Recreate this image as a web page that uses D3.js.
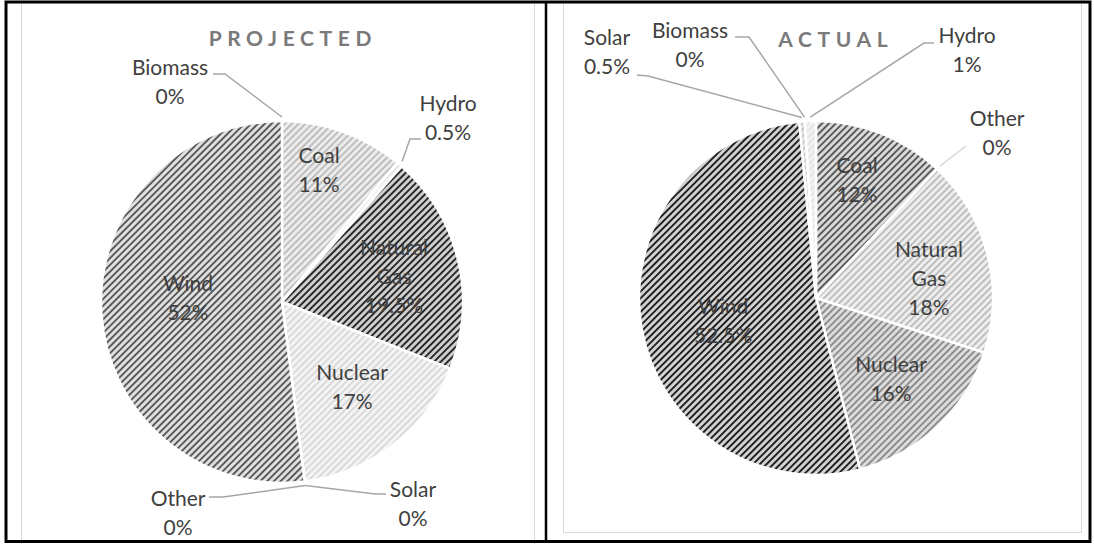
<!DOCTYPE html>
<html>
<head>
<meta charset="utf-8">
<script src="https://cdn.jsdelivr.net/npm/d3@7"></script>
<style>
  body { margin: 0; background: #fff; }
  text { font-family: Lato, "Open Sans", sans-serif; }
</style>
</head>
<body>
<svg id="chart"></svg>
<script>
// ---- data ----
var titles = ["PROJECTED", "ACTUAL"];
var projectedCategories = ["Biomass", "Coal", "Hydro", "Natural Gas", "Nuclear", "Other", "Solar", "Wind"];
var projectedValues     = [0, 11, 0.5, 19.5, 17, 0, 0, 52];
var actualCategories = ["Coal", "Other", "Natural Gas", "Nuclear", "Wind", "Solar", "Biomass", "Hydro"];
var actualValues     = [12, 0, 18, 16, 52.5, 0.5, 0, 1];

W = 1094
H = 544

// hatch colours [background, stripe] for each slice
var projectedFills = {
  "Coal": ["#ececec", "#bdbdbd"],
  "Hydro": ["#f4f4f4", "#e6e6e6"],
  "Natural Gas": ["#cfcfcf", "#262626"],
  "Nuclear": ["#f4f4f4", "#d9d9d9"],
  "Wind": ["#e0e0e0", "#595959"],
  "Biomass": ["#ddd", "#888"], "Other": ["#ddd", "#888"], "Solar": ["#ddd", "#888"]
};
var actualFills = {
  "Coal": ["#dadada", "#595959"],
  "Natural Gas": ["#eeeeee", "#bdbdbd"],
  "Nuclear": ["#dcdcdc", "#8c8c8c"],
  "Wind": ["#d2d2d2", "#1e1e1e"],
  "Solar": ["#e4e4e4", "#c4c4c4"],
  "Hydro": ["#f2f2f2", "#e4e4e4"],
  "Biomass": ["#ddd", "#888"], "Other": ["#ddd", "#888"]
};

// placement of each chart and its labels
var charts = [
  {
    title: titles[0], cats: projectedCategories, vals: projectedValues, fills: projectedFills,
    cx: 282, cy: 302, r: 181, titleX: 290, titleY: 46,
    inside: { "Coal": [0.757, -4.1], "Natural Gas": [0.634, 0.9], "Nuclear": [0.608, -1.7], "Wind": [0.52, 6] },
    outside: {
      "Biomass": { x: 170, y: 75, line: [[213, 74], [225, 74]] },
      "Hydro":   { x: 448, y: 111, line: [[421, 139], [410, 139]] },
      "Solar":   { x: 413, y: 497, line: [[386, 494], [375, 494]] },
      "Other":   { x: 178, y: 506, line: [[209, 497], [223, 497]] }
    }
  },
  {
    title: titles[1], cats: actualCategories, vals: actualValues, fills: actualFills,
    cx: 816, cy: 298, r: 177, titleX: 833, titleY: 47,
    inside: { "Coal": [0.705, -2.4], "Natural Gas": [0.648, 4.4], "Nuclear": [0.624, 0.4], "Wind": [0.541, -4] },
    outside: {
      "Solar":   { x: 607, y: 45, line: [[637, 75], [648, 76]] },
      "Biomass": { x: 690, y: 38, line: [[735, 37], [749, 37]] },
      "Hydro":   { x: 967, y: 43, line: [[934, 43], [924, 43]] },
      "Other":   { x: 997, y: 126, line: [[966, 146]], light: true }
    }
  }
];

var svg = d3.select('#chart').attr('width', W).attr('height', H);
svg.append('rect').attr('width', W).attr('height', H).attr('fill', '#fff');
var defs = svg.append('defs');

// light grey chart frames
svg.append('rect').attr('x', 21.5).attr('y', -10).attr('width', 513).attr('height', 570)
   .attr('fill', 'none').attr('stroke', '#d9d9d9');
svg.append('rect').attr('x', 563.5).attr('y', -10).attr('width', 518).attr('height', 542.5)
   .attr('fill', 'none').attr('stroke', '#d9d9d9');

lineH = 29
hatch = 4.8

charts.forEach(function(c, ci) {
  var data = c.cats.map(function(k, i) { return { name: k, value: c.vals[i] }; });
  var pie = d3.pie().sort(null).value(function(d) { return d.value; });
  var arcs = pie(data);
  var arc = d3.arc().innerRadius(0).outerRadius(c.r);

  // hatch patterns
  arcs.forEach(function(a, i) {
    var f = c.fills[a.data.name];
    var p = defs.append('pattern')
      .attr('id', 'hatch' + ci + '_' + i)
      .attr('patternUnits', 'userSpaceOnUse')
      .attr('width', hatch).attr('height', hatch)
      .attr('patternTransform', 'rotate(45)');
    p.append('rect').attr('width', hatch).attr('height', hatch).attr('fill', f[0]);
    p.append('rect').attr('width', 1.9).attr('height', hatch).attr('fill', f[1]);
  });

  var g = svg.append('g').attr('transform', `translate(${c.cx},${c.cy})`);

  g.selectAll('.slice').data(arcs).enter()
    .append('path')
    .attr('class', 'slice')
    .attr('d', arc)
    .attr('fill', function(d, i) { return `url(#hatch${ci}_${i})`; })
    .attr('stroke', '#fff')
    .attr('stroke-width', 2.5)
    .attr('stroke-linejoin', 'round');

  // title
  svg.append('text')
    .attr('x', c.titleX + 2.8).attr('y', c.titleY)
    .attr('text-anchor', 'middle')
    .attr('font-size', 21).attr('font-weight', 700)
    .attr('letter-spacing', '5.6px')
    .attr('fill', '#7a7a7a')
    .text(c.title);

  var mid = function(a) { return (a.startAngle + a.endAngle) / 2; };

  // labels inside the slices
  arcs.filter(function(a) { return c.inside[a.data.name]; }).forEach(function(a) {
    var opt = c.inside[a.data.name];
    var ang = mid(a) + opt[1] * Math.PI / 180;
    var px = Math.sin(ang) * c.r * opt[0], py = -Math.cos(ang) * c.r * opt[0];
    var lines = a.data.name.split(' ').concat([a.data.value + '%']);
    var t = g.append('text').attr('text-anchor', 'middle').attr('font-size', 21).attr('fill', '#404040');
    lines.forEach(function(s, li) {
      t.append('tspan').attr('x', px)
        .attr('y', py + (li - (lines.length - 1) / 2) * lineH + 7.5)
        .text(s);
    });
  });

  // labels outside with leader lines
  arcs.filter(function(a) { return c.outside[a.data.name]; }).forEach(function(a) {
    var o = c.outside[a.data.name];
    var ang = mid(a), rr = c.r + 4;
    var end = [c.cx + Math.sin(ang) * rr, c.cy - Math.cos(ang) * rr];
    var pts = o.line.concat([end]);
    svg.append('path')
      .attr('d', d3.line()(pts))
      .attr('fill', 'none')
      .attr('stroke', o.light ? '#d9d9d9' : '#a6a6a6')
      .attr('stroke-width', 1.5);
    var t = svg.append('text').attr('text-anchor', 'middle').attr('font-size', 21).attr('fill', '#404040');
    t.append('tspan').attr('x', o.x).attr('y', o.y).text(a.data.name);
    t.append('tspan').attr('x', o.x).attr('y', o.y + lineH).text(a.data.value + '%');
  });
});

// table borders
svg.append('rect').attr('x', 6).attr('y', 2).attr('width', 1084).attr('height', 539.5)
   .attr('fill', 'none').attr('stroke', '#000').attr('stroke-width', 3);
svg.append('line').attr('x1', 546).attr('x2', 546).attr('y1', 2).attr('y2', 542)
   .attr('stroke', '#000').attr('stroke-width', 2.5);
</script>
</body>
</html>
